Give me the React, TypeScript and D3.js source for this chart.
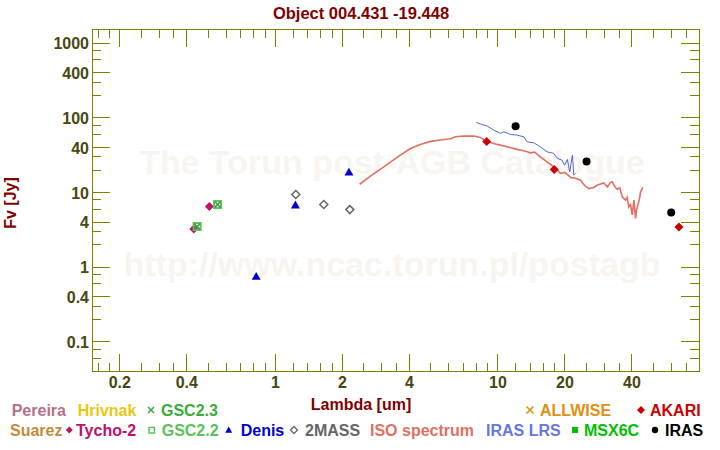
import React from "react";
import * as d3 from "d3";

const W = 720;
const H = 450;

// axis ticks
const xMajorTicks = [0.2, 0.4, 1, 2, 4, 10, 20, 40];
const xMinorTicks = [0.16, 0.18, 0.25, 0.3, 0.35, 0.5, 0.6, 0.7, 0.8, 0.9, 1.2, 1.4, 1.6, 1.8, 2.5, 3, 3.5, 5, 6, 7, 8, 9, 12, 14, 16, 18, 25, 30, 35, 50, 60, 70];
const xTickLabels = ["0.2", "0.4", "1", "2", "4", "10", "20", "40"];
const yMajorTicks = [1000, 400, 100, 40, 10, 4, 1, 0.4, 0.1];
const yMinorTicks = [800, 600, 300, 200, 80, 60, 30, 20, 8, 6, 3, 2, 0.8, 0.6, 0.3, 0.2, 0.08, 0.06];
const yTickLabels = ["1000", "400", "100", "40", "10", "4", "1", "0.4", "0.1"];

// photometry
const tychoLambda = [0.43, 0.505];
const tychoFlux = [3.25, 6.5];
const gsc22Lambda = [0.445, 0.55];
const gsc22Flux = [3.5, 6.9];
const gsc23Lambda = [0.445, 0.55];
const gsc23Flux = [3.5, 6.9];
const denisLambda = [0.82, 1.23, 2.14];
const denisFlux = [0.75, 6.8, 18.7];
const twomassLambda = [1.235, 1.65, 2.16];
const twomassFlux = [9.4, 6.9, 5.9];
const akariLambda = [8.9, 17.9, 65];
const akariFlux = [48.3, 20.3, 3.46];
const irasLambda = [12, 25, 60];
const irasFlux = [77.4, 26, 5.4];

// ISO spectrum
const isoLambda = [2.39, 2.67, 3.07, 3.52, 4.04, 4.48, 4.97, 5.52, 6.12, 6.44, 7.02, 7.79, 8.34, 8.88, 9.92, 11.0, 12.2, 13.3, 14.0, 14.6, 15.5, 16.6, 17.8, 19.1, 20.0, 21.2, 22.3, 23.5, 24.5, 25.6, 26.9, 28.0, 29.9, 31.0, 32.0, 32.6, 33.5, 34.3, 35.2, 36.2, 37.4, 38.0, 38.7, 39.4, 40.1, 40.8, 41.5, 42.0, 42.7, 43.3, 43.7, 44.8];
const isoFlux = [12.9, 16.6, 22.1, 29.5, 38.9, 44.1, 48.4, 50.4, 52.4, 55.7, 57.0, 57.0, 54.7, 48.4, 44.1, 40.9, 37.8, 35.8, 34.0, 34.8, 30.1, 25.8, 22.1, 18.0, 18.6, 15.9, 15.5, 14.6, 12.4, 11.3, 11.7, 12.6, 13.4, 11.9, 13.6, 13.9, 12.0, 11.0, 11.6, 8.7, 7.9, 8.6, 6.4, 6.9, 5.0, 7.9, 4.5, 6.0, 7.1, 8.5, 10.2, 11.7];

// IRAS LRS spectrum
const lrsLambda = [8.0, 8.34, 8.94, 9.57, 10.26, 10.62, 11.38, 12.2, 13.06, 13.5, 14.5, 15.5, 16.6, 17.8, 18.5, 19.4, 19.9, 20.5, 21.0, 21.6, 21.9, 22.3];
const lrsFlux = [87.0, 82.6, 77.6, 68.6, 61.9, 65.0, 60.0, 58.7, 55.7, 47.7, 46.3, 40.9, 35.1, 33.4, 28.6, 27.1, 23.2, 27.7, 18.9, 31.7, 17.1, 18.0];

const FONT = "'Liberation Sans', Arial, Helvetica, sans-serif";
const AXIS = "#808000";
const TICKTXT = "#474710";
const DARKRED = "#800000";

const left = 92, right = 699, top = 29, bottom = 371.5;

function diamond(cx: number, cy: number, r: number) {
  return `M${cx},${cy - r}L${cx + r},${cy}L${cx},${cy + r}L${cx - r},${cy}Z`;
}
function triangle(cx: number, cy: number, r: number) {
  return `M${cx},${cy - r}L${cx + r},${cy + r * 0.75}L${cx - r},${cy + r * 0.75}Z`;
}
function cross(cx: number, cy: number, r: number) {
  return `M${cx - r},${cy - r}L${cx + r},${cy + r}M${cx - r},${cy + r}L${cx + r},${cy - r}`;
}

export default function App() {
  const x = d3.scaleLog().domain([0.15, 80]).range([left, right]);
  const y = d3.scaleLog().domain([0.04, 1550]).range([bottom, top]);

  const isoData = isoLambda.map((l, i) => [l, isoFlux[i]] as [number, number]);
  const lrsData = lrsLambda.map((l, i) => [l, lrsFlux[i]] as [number, number]);
  const line = d3.line<[number, number]>().x((d) => x(d[0])).y((d) => y(d[1]));

  const legendText = (txt: string, tx: number, ty: number, color: string) => (
    <text x={tx} y={ty} fill={color} fontSize={16} fontWeight="bold" fontFamily={FONT}>{txt}</text>
  );

  return (
    <svg width={W} height={H} style={{ position: "absolute", left: 0, top: 0, background: "#fff" }}>
      <rect x={0} y={0} width={W} height={H} fill="#fff" />
      {/* watermark */}
      <text x={392} y={174} textAnchor="middle" fontSize={34} fontWeight="bold" fontFamily={FONT} fill="#f8f5f0">The Torun post-AGB Catalogue</text>
      <text x={392} y={276} textAnchor="middle" fontSize={34} fontWeight="bold" fontFamily={FONT} fill="#f8f5f0">http://www.ncac.torun.pl/postagb</text>

      {/* title */}
      <text x={361} y={19} textAnchor="middle" fontSize={16.5} fontWeight="bold" fontFamily={FONT} fill={DARKRED}>Object 004.431 -19.448</text>

      {/* frame & ticks */}
      <g shapeRendering="crispEdges" stroke={AXIS} strokeWidth={1}>
        <rect x={left} y={top} width={right - left} height={bottom - top} fill="none" />
        {xMajorTicks.map((t) => (
          <g key={"xM" + t}>
            <line x1={x(t)} x2={x(t)} y1={bottom} y2={bottom - 18} />
            <line x1={x(t)} x2={x(t)} y1={top} y2={top + 18} />
          </g>
        ))}
        {xMinorTicks.map((t) => (
          <g key={"xm" + t}>
            <line x1={x(t)} x2={x(t)} y1={bottom} y2={bottom - 9} />
            <line x1={x(t)} x2={x(t)} y1={top} y2={top + 9} />
          </g>
        ))}
        {yMajorTicks.map((t) => (
          <g key={"yM" + t}>
            <line x1={left} x2={left + 18} y1={y(t)} y2={y(t)} />
            <line x1={right} x2={right - 18} y1={y(t)} y2={y(t)} />
          </g>
        ))}
        {yMinorTicks.map((t) => (
          <g key={"ym" + t}>
            <line x1={left} x2={left + 9} y1={y(t)} y2={y(t)} />
            <line x1={right} x2={right - 9} y1={y(t)} y2={y(t)} />
          </g>
        ))}
      </g>

      {/* tick labels */}
      {xMajorTicks.map((t, i) => (
        <text key={"xl" + t} x={x(t)} y={388} textAnchor="middle" fontSize={16} fontWeight="bold" fontFamily={FONT} fill={TICKTXT}>{xTickLabels[i]}</text>
      ))}
      {yMajorTicks.map((t, i) => (
        <text key={"yl" + t} x={89} y={y(t) + 6} textAnchor="end" fontSize={16} fontWeight="bold" fontFamily={FONT} fill={TICKTXT}>{yTickLabels[i]}</text>
      ))}

      {/* axis titles */}
      <text x={361} y={410} textAnchor="middle" fontSize={16} fontWeight="bold" fontFamily={FONT} fill={DARKRED}>Lambda [um]</text>
      <text transform="translate(16,203) rotate(-90)" textAnchor="middle" fontSize={16} fontWeight="bold" fontFamily={FONT} fill={DARKRED}>Fv [Jy]</text>

      {/* spectra */}
      <path d={line(isoData) || ""} fill="none" stroke="#e07060" strokeWidth={1.6} />
      <path d={line(lrsData) || ""} fill="none" stroke="#5566dd" strokeWidth={1} />

      {/* photometry */}
      {tychoLambda.map((l, i) => (
        <path key={"ty" + i} d={diamond(x(l), y(tychoFlux[i]), 4.5)} fill="#c0106a" />
      ))}
      {gsc22Lambda.map((l, i) => (
        <rect key={"g22" + i} x={x(l) - 3.5} y={y(gsc22Flux[i]) - 3.5} width={7} height={7} fill="none" stroke="#5cc05c" strokeWidth={2} />
      ))}
      {gsc23Lambda.map((l, i) => (
        <path key={"g23" + i} d={cross(x(l), y(gsc23Flux[i]), 3)} fill="none" stroke="#3a9a3a" strokeWidth={1.5} />
      ))}
      {denisLambda.map((l, i) => (
        <path key={"de" + i} d={triangle(x(l), y(denisFlux[i]), 4.5)} fill="#0000cc" />
      ))}
      {twomassLambda.map((l, i) => (
        <path key={"2m" + i} d={diamond(x(l), y(twomassFlux[i]), 4)} fill="none" stroke="#666" strokeWidth={1.5} />
      ))}
      {akariLambda.map((l, i) => (
        <path key={"ak" + i} d={diamond(x(l), y(akariFlux[i]), 4.5)} fill="#cc0000" />
      ))}
      {irasLambda.map((l, i) => (
        <circle key={"ir" + i} cx={x(l)} cy={y(irasFlux[i])} r={4} fill="#000" />
      ))}

      {/* legend row 1 */}
      {legendText("Pereira", 11.7, 416, "#b5708a")}
      {legendText("Hrivnak", 77.7, 416, "#e8c810")}
      <path d={cross(151, 410, 3)} stroke="#3daa3d" strokeWidth={1.6} fill="none" />
      {legendText("GSC2.3", 161, 416, "#3daa3d")}
      <path d={cross(530, 410, 3.5)} stroke="#e09010" strokeWidth={1.6} fill="none" />
      {legendText("ALLWISE", 540, 416, "#e09010")}
      <path d={diamond(641, 410, 4)} fill="#cc0000" />
      {legendText("AKARI", 650, 416, "#cc0000")}

      {/* legend row 2 */}
      {legendText("Suarez", 10, 436, "#c48a3c")}
      <path d={diamond(69.3, 430, 3.5)} fill="#c0106a" />
      {legendText("Tycho-2", 76, 436, "#c0106a")}
      <rect x={149} y={427.5} width={5.5} height={5.5} fill="none" stroke="#5cc05c" strokeWidth={1.5} />
      {legendText("GSC2.2", 161.7, 436, "#5cc05c")}
      <path d={triangle(228.7, 430, 3.5)} fill="#0000cc" />
      {legendText("Denis", 240.7, 436, "#0000cc")}
      <path d={diamond(294, 430, 3.5)} fill="none" stroke="#666" strokeWidth={1.3} />
      {legendText("2MASS", 305, 436, "#666666")}
      {legendText("ISO spectrum", 370, 436, "#e07060")}
      {legendText("IRAS LRS", 486, 436, "#6677dd")}
      <rect x={572} y={427} width={6} height={6} fill="#00c000" />
      {legendText("MSX6C", 584, 436, "#00c000")}
      <circle cx={655} cy={430} r={3.2} fill="#000" />
      {legendText("IRAS", 665, 436, "#000")}
    </svg>
  );
}
